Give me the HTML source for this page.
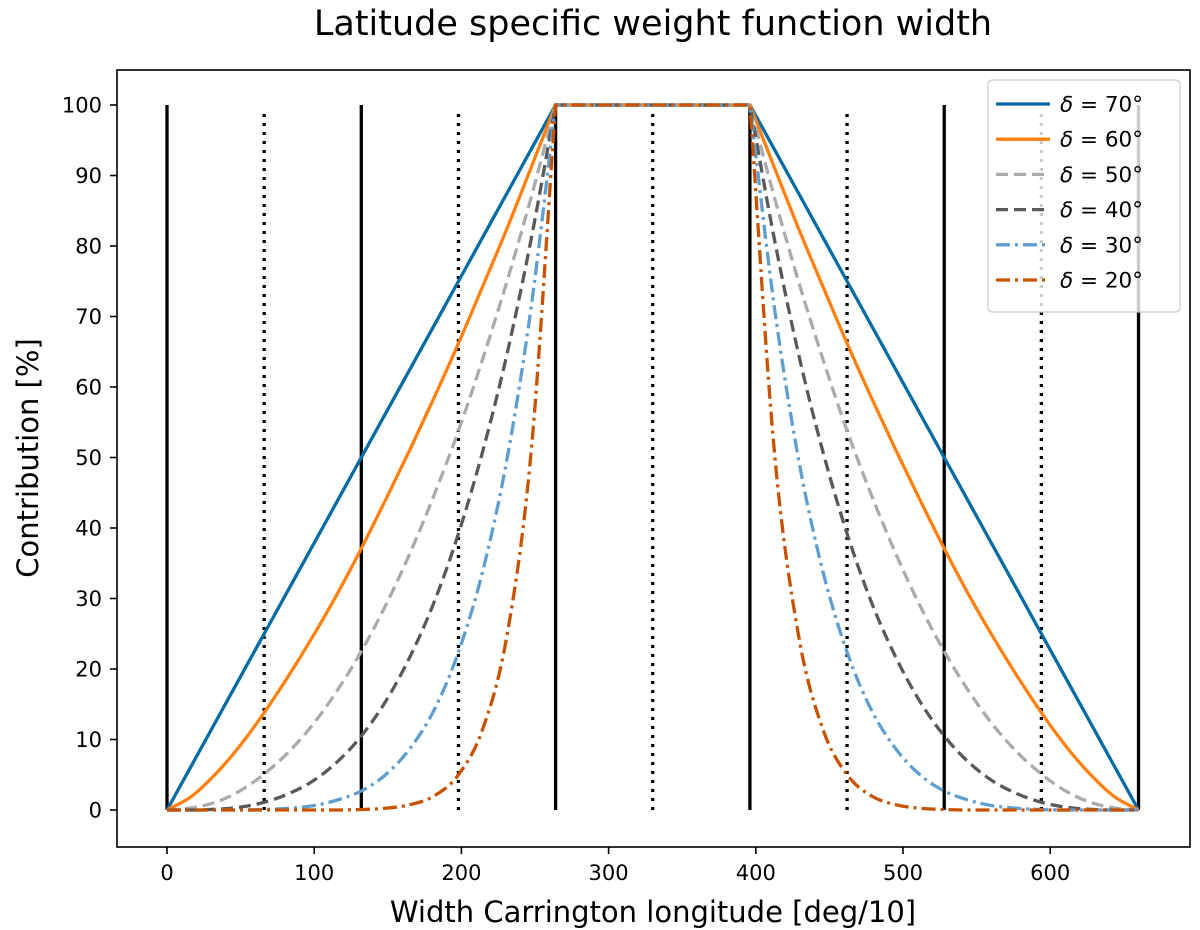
<!DOCTYPE html>
<html><head><meta charset="utf-8"><style>
body{margin:0;background:#fff;}
svg{display:block;font-family:"DejaVu Sans","Liberation Sans",sans-serif;}
</style></head><body>
<svg id="chart" width="1200" height="930" viewBox="0 0 1200 930">
<text x="653" y="35" font-size="35" text-anchor="middle">Latitude specific weight function width</text>
<g id="grid"></g><g id="series"></g><g id="axes"></g><g id="legend"></g>
<text x="653" y="922" font-size="29" text-anchor="middle">Width Carrington longitude [deg/10]</text>
<text transform="translate(38,458) rotate(-90)" font-size="29" text-anchor="middle">Contribution [%]</text>
</svg>
<script>
const xTicks=[0,100,200,300,400,500,600];
const yTicks=[0,10,20,30,40,50,60,70,80,90,100];
const solidLines=[0,132,264,396,528,660];
const dottedLines=[66,198,330,462,594];
const rampStart=0, rampEnd=264, flatEnd=396, totalEnd=660;
const rampFrac=[0,1/16,2/16,3/16,4/16,5/16,6/16,7/16,8/16,9/16,10/16,11/16,12/16,13/16,14/16,15/16,1];
const labels=["δ = 70°","δ = 60°","δ = 50°","δ = 40°","δ = 30°","δ = 20°"];
const s70=[0,6.25,12.5,18.75,25,31.25,37.5,43.75,50,56.25,62.5,68.75,75,81.25,87.5,93.75,100];
const s60=[0,1.9,5.1,9.1,13.8,19.0,24.6,30.6,37.1,44.0,51.1,58.5,66.2,74.3,82.5,91.2,100];
const s50=[0,0.3,1.1,2.7,5.1,8.2,12.1,16.9,22.5,29.0,36.4,44.7,53.8,64.0,75.0,87.0,100];
const s40=[0,0,0.1,0.4,1.1,2.3,4.1,6.8,10.5,15.4,21.7,29.5,39.2,50.9,64.7,81.1,100];
const s30=[0,0,0,0,0.07,0.24,0.6,1.4,2.7,5.0,8.7,14.2,22.4,33.9,49.8,71.5,100];
const s20=[0,0,0,0,0,0,0,0,0.07,0.25,0.75,2.0,5.0,11.5,24.8,51.1,100];
const seriesVals=[s70,s60,s50,s40,s30,s20];
const colors=["#006ba4","#ff800e","#ababab","#595959","#5f9ed1","#c85200"];
const dashes=["","","12,6","12,6","14,5,3,5","14,5,3,5"];

const X=v=>167+v*1.472, Y=v=>810-v*7.05;
const NS="http://www.w3.org/2000/svg";
function mk(tag,attrs,parent){const e=document.createElementNS(NS,tag);for(const k in attrs)e.setAttribute(k,attrs[k]);parent.appendChild(e);return e;}
const grid=document.getElementById('grid'),ser=document.getElementById('series'),ax=document.getElementById('axes'),lg=document.getElementById('legend');

solidLines.forEach(v=>{const l=mk('line',{x1:X(v),x2:X(v),y1:Y(0),y2:Y(100),stroke:'#000','stroke-width':3.3},grid);

});
dottedLines.forEach(v=>{const l=mk('line',{x1:X(v),x2:X(v),y1:Y(0),y2:Y(99.5),stroke:'#000','stroke-width':3.3,'stroke-dasharray':'3,6'},grid);

});

function monoPath(pts){
 const n=pts.length,d=[],m=[];
 for(let i=0;i<n-1;i++)d.push((pts[i+1][1]-pts[i][1])/(pts[i+1][0]-pts[i][0]));
 m[0]=d[0];m[n-1]=d[n-2];
 for(let i=1;i<n-1;i++)m[i]=(d[i-1]*d[i]<=0)?0:(d[i-1]+d[i])/2;
 for(let i=0;i<n-1;i++){if(d[i]===0){m[i]=0;m[i+1]=0;continue;}const a=m[i]/d[i],b=m[i+1]/d[i],s=a*a+b*b;if(s>9){const t=3/Math.sqrt(s);m[i]=t*a*d[i];m[i+1]=t*b*d[i];}}
 let p=`M${pts[0][0]},${pts[0][1]}`;
 for(let i=0;i<n-1;i++){const h=(pts[i+1][0]-pts[i][0])/3;
  p+=` C${pts[i][0]+h},${pts[i][1]+m[i]*h} ${pts[i+1][0]-h},${pts[i+1][1]-m[i+1]*h} ${pts[i+1][0]},${pts[i+1][1]}`;}
 return p;
}
seriesVals.forEach((vals,k)=>{
 const left=rampFrac.map((f,i)=>[X(rampStart+f*(rampEnd-rampStart)),Y(vals[i])]);
 const right=rampFrac.map((f,i)=>[X(flatEnd+(1-f)*(totalEnd-flatEnd)),Y(vals[i])]).reverse();
 let d=monoPath(left)+` L${X(flatEnd)},${Y(100)} `+monoPath(right).replace(/^M/,'L');
 const p=mk('path',{d:d,fill:'none',stroke:colors[k],'stroke-width':3.3,'stroke-dasharray':dashes[k]},ser);
 
 
});

const frame=mk('rect',{x:117,y:70,width:1073,height:777,fill:'none',stroke:'#000','stroke-width':1.6},ax);


xTicks.forEach(v=>{mk('line',{x1:X(v),x2:X(v),y1:847,y2:854,stroke:'#000','stroke-width':1.6},ax);
 const t=mk('text',{x:X(v),y:880,'font-size':21,'text-anchor':'middle'},ax);t.textContent=v;
 
 });
yTicks.forEach(v=>{mk('line',{x1:110,x2:117,y1:Y(v),y2:Y(v),stroke:'#000','stroke-width':1.6},ax);
 const t=mk('text',{x:102,y:Y(v)+7.5,'font-size':21,'text-anchor':'end'},ax);t.textContent=v;
 
 });

const box=mk('rect',{x:988,y:80,width:192,height:232,rx:4,fill:'#fff','fill-opacity':0.8,stroke:'#ccc','stroke-width':1.2},lg);


labels.forEach((lab,k)=>{const y=104+k*35.2;
 const g=mk('g',{},lg);
 
 
 mk('line',{x1:996,x2:1050,y1:y,y2:y,stroke:colors[k],'stroke-width':3.3,'stroke-dasharray':dashes[k]},g);
 const t=mk('text',{x:1060,y:y+7.5,'font-size':21.5},g);
 t.innerHTML='<tspan font-style="italic">δ</tspan>'+lab.slice(1);});
</script>
</body></html>
